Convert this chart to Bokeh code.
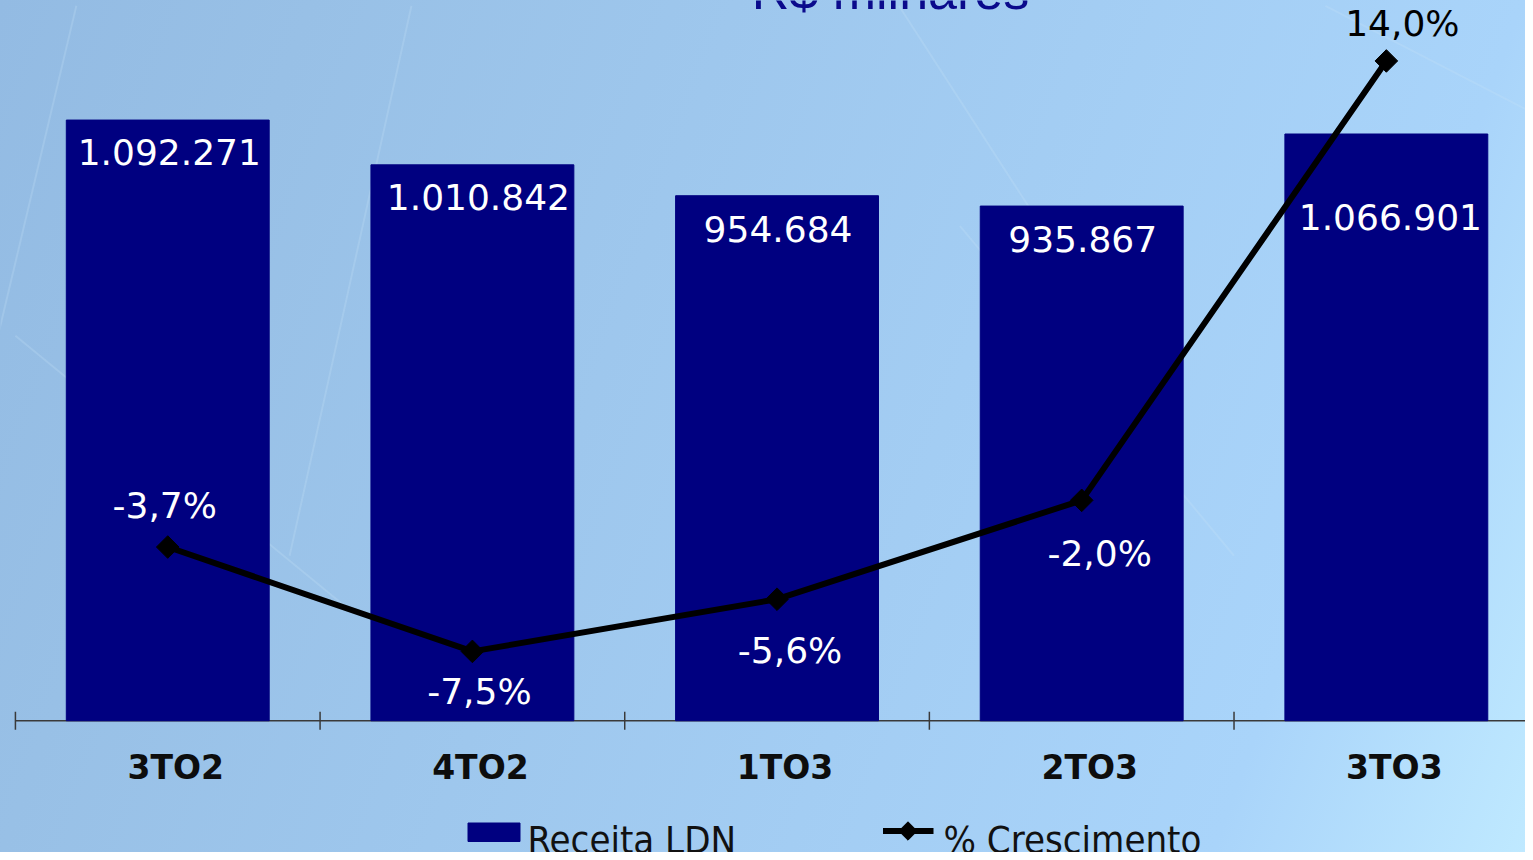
import math
from bokeh.plotting import figure
from bokeh.models import Range1d, ColumnDataSource
from bokeh.core.properties import value
from bokeh.embed import file_html
from bokeh.resources import INLINE

# ---- data ----
categories = ["3TO2", "4TO2", "1TO3", "2TO3", "3TO3"]
receita = [1092271, 1010842, 954684, 935867, 1066901]
crescimento = [-3.7, -7.5, -5.6, -2.0, 14.0]
receita_labels = ["1.092.271", "1.010.842", "954.684", "935.867", "1.066.901"]
crescimento_labels = ["-3,7%", "-7,5%", "-5,6%", "-2,0%", "14,0%"]
title_text = "R$ milhares"
legend_labels = ["Receita LDN", "% Crescimento"]

# ---- label placement (pixels, style only) ----
val_dx = [1.5, 6, 1, 1, 4]
val_dy = [32, 32, 33, 33, 83]
pct_dx = [-3, 7, 13, 18, 16]
pct_dy = [-42, 40, 51, 53, -37]
pct_colors = ["white", "white", "white", "white", "black"]

W, H = 1525, 852
n = len(categories)
xs = [i + 0.5 for i in range(n)]

# scales (pixel geometry of the frame)
X0, X1 = -0.04898, 4.95676
Y0, Y1 = -239590, 1309670
P0, P1 = -14.823, 16.201


def dx(px):
    return X0 + px * (X1 - X0) / W


def dy(py):
    return Y1 - py * (Y1 - Y0) / H


src = ColumnDataSource(dict(
    x=xs, receita=receita, pct=crescimento, cat=categories, zero=[0] * n,
    rlab=receita_labels, plab=crescimento_labels,
    vdx=val_dx, vdy=val_dy, pdx=pct_dx, pdy=pct_dy, pcol=pct_colors,
))

p = figure(
    width=W, height=H, output_backend="svg", toolbar_location=None,
    x_range=Range1d(X0, X1), y_range=Range1d(Y0, Y1),
    x_axis_location=None, y_axis_location=None,
    min_border=0, min_border_left=0, min_border_right=0,
    min_border_top=0, min_border_bottom=0,
    background_fill_color=None, border_fill_color=None, outline_line_color=None,
)
p.styles = {"background": "linear-gradient(110deg, #93bbe3 0%, #98c0e6 17%, #a9d4fa 83%, #bfe9ff 100%)"}
p.xgrid.visible = False
p.ygrid.visible = False
p.extra_y_ranges = {"pct": Range1d(P0, P1)}

# faint background network lines
p.segment(x0=[0.2, 1.3, 2.9, 3.1, 4.3, 0.0], y0=[1300000, 1300000, 1300000, 900000, 1300000, 700000],
          x1=[-0.1, 0.9, 3.6, 4.0, 5.0, 1.1], y1=[600000, 300000, 700000, 300000, 1100000, 200000],
          line_color="#c8e2f7", line_alpha=0.25, line_width=2)

# category axis (line, boundary ticks, labels)
p.segment(x0=[0], y0=[0], x1=[n], y1=[0], line_color="#3a3a3a", line_width=1.5)
p.scatter(x=list(range(n + 1)), y=[0] * (n + 1), marker="dash", angle=math.pi / 2,
          size=18, line_color="#3a3a3a", line_width=1.5)
p.text(x="x", y="zero", text="cat", source=src, x_offset=8, y_offset=46.5,
       text_align="center", text_baseline="middle", text_color="#0d0d0d",
       text_font=value("DejaVu Sans"), text_font_style="bold", text_font_size="33px")

bars = p.vbar(x="x", top="receita", bottom=0, width=0.666, source=src,
              fill_color="#000080", line_color="#000080")

p.text(x="x", y="receita", text="rlab", x_offset="vdx", y_offset="vdy", source=src,
       text_align="center", text_baseline="middle", text_color="white",
       text_font=value("DejaVu Sans"), text_font_size="36px")

line = p.line(x="x", y="pct", source=src, y_range_name="pct",
              line_color="black", line_width=6)
marks = p.scatter(x="x", y="pct", source=src, y_range_name="pct",
                  marker="square", angle=math.pi / 4, size=16,
                  fill_color="black", line_color="black")

p.text(x="x", y="pct", text="plab", x_offset="pdx", y_offset="pdy", source=src,
       y_range_name="pct", text_align="center", text_baseline="middle",
       text_color="pcol", text_font=value("DejaVu Sans"), text_font_size="36px")

# title (cut by the top edge, as in the original)
p.text(x=[dx(890)], y=[dy(-10)], text=[title_text],
       text_align="center", text_baseline="middle", text_color="#0a0a8c",
       text_font=value("Liberation Sans"), text_font_size="52px")

# legend (drawn below the category axis)
p.quad(left=[dx(467.5)], right=[dx(519.5)], top=[dy(822.5)], bottom=[dy(841)],
       fill_color="#000080", line_color="#000080")
p.line(x=[dx(882.5), dx(933)], y=[dy(830.5), dy(830.5)], line_color="black", line_width=6)
p.scatter(x=[dx(907.5)], y=[dy(830.5)], marker="square", angle=math.pi / 4, size=13,
          fill_color="black", line_color="black")
p.text(x=[dx(527), dx(943)], y=[dy(839), dy(839)], text=legend_labels,
       text_align="left", text_baseline="middle", text_color="#111111",
       text_font=value("DejaVu Sans Condensed, Liberation Sans, sans-serif"),
       text_font_size="38px")

open("out.html", "w").write(file_html(p, INLINE))
